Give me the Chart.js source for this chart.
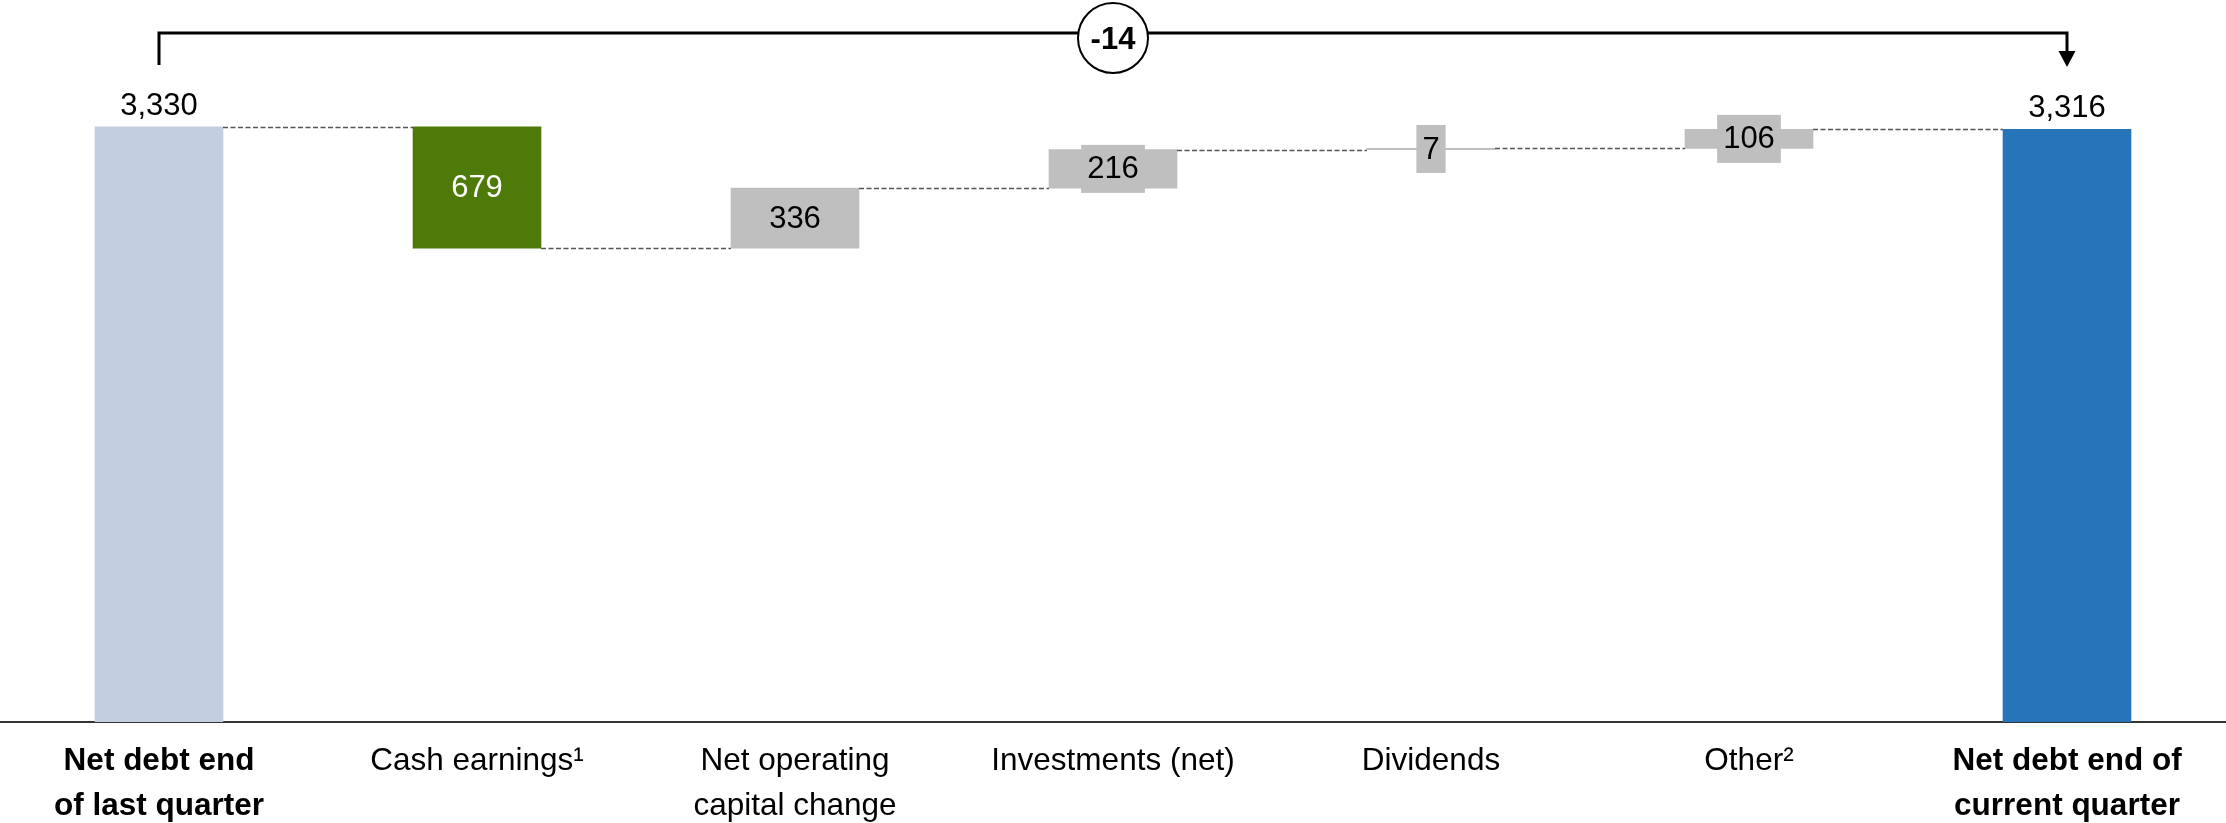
<!DOCTYPE html>
<html>
<head>
<meta charset="utf-8">
<script src="https://cdn.jsdelivr.net/npm/chart.js@4.4.1/dist/chart.umd.min.js"></script>
<style>
  html, body { margin: 0; padding: 0; background: #ffffff; }
  #wrap { position: relative; width: 2226px; height: 823px; }
</style>
</head>
<body>
<div id="wrap"><canvas id="c"></canvas></div>
<script>
// ---- data ----
const categories = [
  ['Net debt end', 'of last quarter'],
  'Cash earnings\u00B9',
  ['Net operating', 'capital change'],
  'Investments (net)',
  'Dividends',
  'Other\u00B2',
  ['Net debt end of', 'current quarter']
];
const steps = [3330, -679, 336, 216, 7, 106, 3316];      // totals at both ends, changes between
const isTotal = [true, false, false, false, false, false, true];
const valueLabels = ['3,330', '679', '336', '216', '7', '106', '3,316'];
const barColors = ['#C3CEE0', '#4E7A0A', '#BFBFBF', '#BFBFBF', '#BFBFBF', '#BFBFBF', '#2775B8'];
const labelKinds = ['above', 'inside-white', 'boxed', 'boxed', 'boxed', 'boxed', 'above'];

// ---- derived floating ranges ----
let running = 0;
const levels = [];
const ranges = steps.map((v, i) => {
  if (isTotal[i]) { running = v; levels.push(running); return [0, v]; }
  const s = running; running += v; levels.push(running);
  return [Math.min(s, running), Math.max(s, running)];
});
const totalChange = steps[steps.length - 1] - steps[0];

const FONT = "'Liberation Sans', Arial, sans-serif";

const overlay = {
  id: 'overlay',
  afterDatasetsDraw(chart) {
    const ctx = chart.ctx;
    const meta = chart.getDatasetMeta(0);
    const y = chart.scales.y;
    const bars = meta.data;
    ctx.save();
    // connectors
    ctx.strokeStyle = '#555555';
    ctx.lineWidth = 1.3;
    ctx.setLineDash([5, 2.5]);
    for (let i = 0; i < bars.length - 1; i++) {
      const a = bars[i], b = bars[i + 1];
      const py = Math.round(y.getPixelForValue(levels[i])) + 0.5;
      ctx.beginPath();
      ctx.moveTo(a.x + a.width / 2, py);
      ctx.lineTo(b.x - b.width / 2, py);
      ctx.stroke();
    }
    ctx.setLineDash([]);
    // value labels
    ctx.font = '31px ' + FONT;
    ctx.textAlign = 'center';
    bars.forEach((bar, i) => {
      const top = Math.min(bar.y, bar.base);
      const bot = Math.max(bar.y, bar.base);
      const cy = (top + bot) / 2;
      const kind = labelKinds[i];
      const txt = valueLabels[i];
      if (kind === 'above') {
        ctx.fillStyle = '#000000';
        ctx.textBaseline = 'alphabetic';
        ctx.fillText(txt, bar.x, top - 12);
      } else if (kind === 'inside-white') {
        ctx.fillStyle = '#FFFFFF';
        ctx.textBaseline = 'middle';
        ctx.fillText(txt, bar.x, cy + 1);
      } else {
        const w = ctx.measureText(txt).width + 12;
        const h = 48;
        ctx.fillStyle = barColors[i];
        ctx.fillRect(bar.x - w / 2, cy - h / 2, w, h);
        ctx.fillStyle = '#000000';
        ctx.textBaseline = 'middle';
        ctx.fillText(txt, bar.x, cy + 1);
      }
    });
    // bracket with total change
    const x0 = bars[0].x, x1 = bars[bars.length - 1].x;
    const lineY = 33;
    ctx.strokeStyle = '#000000';
    ctx.lineWidth = 3;
    ctx.beginPath();
    ctx.moveTo(x0, 65);
    ctx.lineTo(x0, lineY);
    ctx.lineTo(x1, lineY);
    ctx.lineTo(x1, 52);
    ctx.stroke();
    ctx.fillStyle = '#000000';
    ctx.beginPath();
    ctx.moveTo(x1 - 8.5, 51);
    ctx.lineTo(x1 + 8.5, 51);
    ctx.lineTo(x1, 67);
    ctx.closePath();
    ctx.fill();
    const cx = (x0 + x1) / 2;
    ctx.beginPath();
    ctx.arc(cx, 38, 35, 0, Math.PI * 2);
    ctx.fillStyle = '#FFFFFF';
    ctx.fill();
    ctx.lineWidth = 2;
    ctx.strokeStyle = '#000000';
    ctx.stroke();
    ctx.fillStyle = '#000000';
    ctx.font = 'bold 31px ' + FONT;
    ctx.textBaseline = 'middle';
    ctx.fillText(String(totalChange), cx, 40);
    ctx.restore();
  }
};

new Chart(document.getElementById('c'), {
  type: 'bar',
  data: {
    labels: categories,
    datasets: [{
      data: ranges,
      backgroundColor: barColors,
      borderWidth: 0,
      barThickness: 128
    }]
  },
  options: {
    responsive: true,
    maintainAspectRatio: false,
    animation: false,
    devicePixelRatio: 1,
    layout: { padding: 0 },
    plugins: { legend: { display: false }, tooltip: { enabled: false } },
    scales: {
      x: {
        grid: { display: false, drawTicks: false },
        border: { display: true, color: '#333333', width: 2 },
        ticks: {
          color: '#000000',
          padding: 16,
          maxRotation: 0,
          autoSkip: false,
          font: (c) => ({
            family: FONT,
            size: 31.5,
            lineHeight: 1.45,
            weight: (c.index === 0 || c.index === categories.length - 1) ? 'bold' : 'normal'
          })
        },
        afterFit: (s) => { s.height = 101; }
      },
      y: {
        display: false,
        min: 0,
        max: 4040
      }
    }
  },
  plugins: [overlay]
});
</script>
</body>
</html>
